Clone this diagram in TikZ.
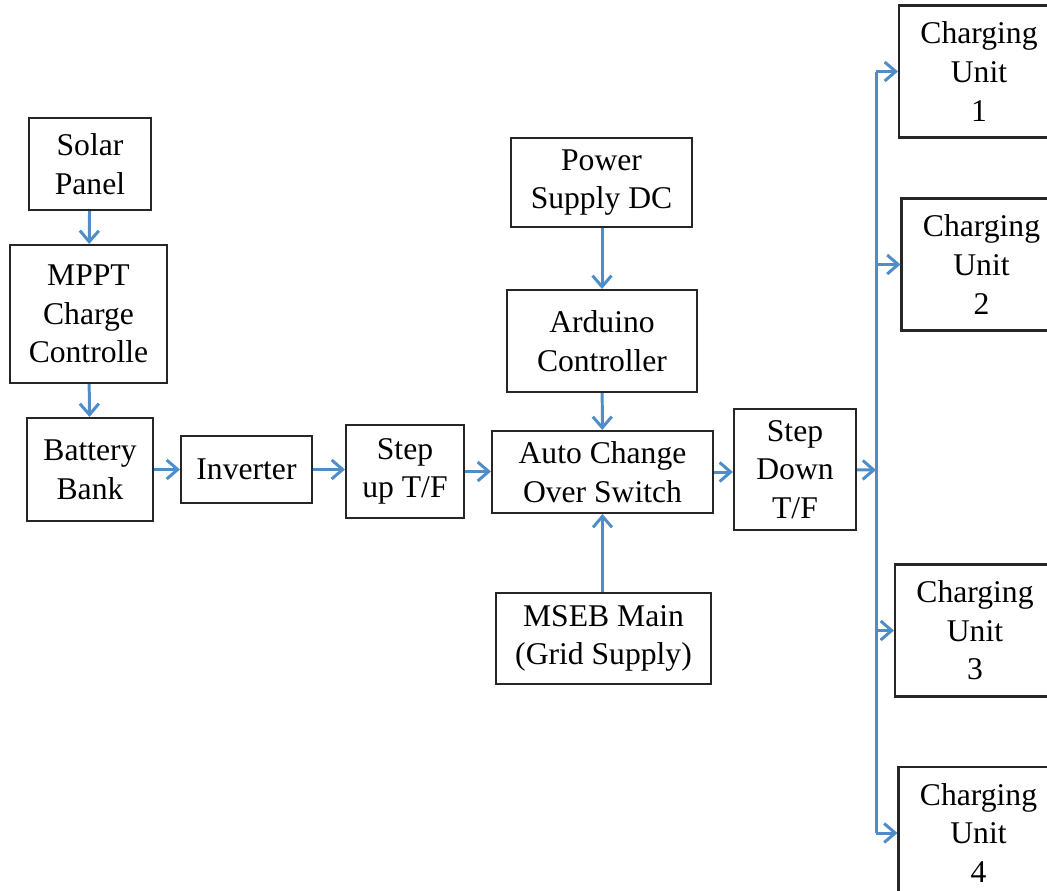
\documentclass[tikz,border=0pt]{standalone}
\usepackage{fontspec}
\setmainfont{Liberation Serif}
\usetikzlibrary{arrows.meta, positioning}
\def\px{0.02cm}
\definecolor{wire}{RGB}{79,141,201}
\tikzstyle{block}=[draw=black!85, line width=1.2pt, align=center, inner sep=0pt, font=\fontsize{18}{22}\selectfont]
\tikzstyle{unit}=[block, minimum width=160*\px, minimum height=132*\px]
\tikzstyle{link}=[-{Straight Barb[length=2.2mm,width=3.8mm]}, line width=1.7pt, draw=wire]

\begin{document}
\begin{tikzpicture}[x=\px, y=-\px]
		\useasboundingbox (0,0) rectangle (1047,890);
		\clip (0,0) rectangle (1047,890);
		% Solar side
		\node[block, minimum width=122*\px, minimum height=92*\px] (SP) at (90,164) {Solar\\Panel};
		\node[block, minimum width=157*\px, minimum height=138*\px] (MP) at (88.5,314) {MPPT\\Charge\\Controlle};
		\node[block, minimum width=126*\px, minimum height=103*\px] (BB) at (90,469.5) {Battery\\Bank};
		\node[block, minimum width=131*\px, minimum height=67*\px] (IN) at (246.5,469.5) {Inverter};
		\node[block, minimum width=118*\px, minimum height=93*\px] (SU) at (405,471.5) {Step\\up T/F};
		% Switching part
		\node[block, minimum width=181*\px, minimum height=89*\px] (PS) at (601.5,182.5) {Power\\Supply DC};
		\node[block, minimum width=190*\px, minimum height=102*\px] (AR) at (602,341) {Arduino\\Controller};
		\node[block, minimum width=221*\px, minimum height=82*\px] (AC) at (602.5,472) {Auto Change\\Over Switch};
		\node[block, minimum width=215*\px, minimum height=91*\px] (MS) at (603.5,638.5) {MSEB Main\\(Grid Supply)};
		\node[block, minimum width=122*\px, minimum height=121*\px] (SD) at (795,469.5) {Step\\Down\\T/F};
		% Charging units
		\node[unit] (U-1) at (979,71.5) {Charging\\Unit\\1};
		\node[unit] (U-2) at (981.5,264.5) {Charging\\Unit\\2};
		\node[unit] (U-3) at (975,630.5) {Charging\\Unit\\3};
		\node[unit] (U-4) at (978.5,833) {Charging\\Unit\\4};
		\coordinate (B) at (876,470);
		% Connections
		\path (SP) edge [link] (MP)
		(MP) edge [link] (BB)
		(BB.east |- IN) edge [link] (IN)
		(IN) edge [link] (IN -| SU.west)
		(SU) edge [link] (SU -| AC.west)
		(PS.south -| AR) edge [link] (AR)
		(AR) edge [link] (AC)
		(MS.north -| AC) edge [link] (AC)
		(AC) edge [link] (AC -| SD.west)
		(SD) edge [link] (B);
		\draw[wire, line width=1.7pt] (B |- U-1.west) -- (B |- U-4.west);
		\foreach \i in {1,...,4}
		\draw[link] (B |- U-\i.west) -- (U-\i.west);
	\end{tikzpicture}
\end{document}
